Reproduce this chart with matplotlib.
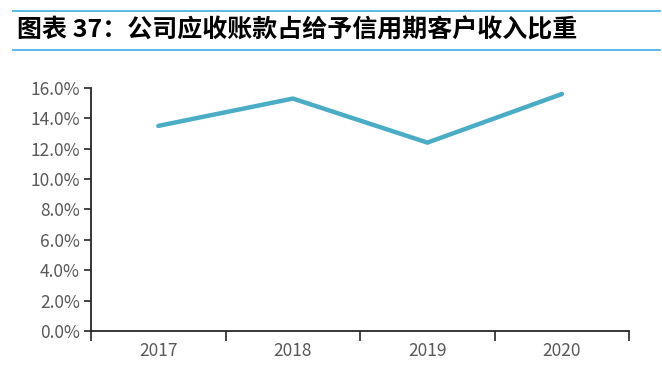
import matplotlib
matplotlib.use("Agg")
from matplotlib import pyplot as plt
from matplotlib.lines import Line2D
from matplotlib.ticker import FuncFormatter, FixedLocator

plt.rcParams["font.family"] = ["Noto Sans CJK SC", "DejaVu Sans"]

years = ["2017", "2018", "2019", "2020"]
share = [13.5, 15.3, 12.4, 15.6]
y_ticks = [0, 2, 4, 6, 8, 10, 12, 14, 16]

title = "图表 37：公司应收账款占给予信用期客户收入比重"

fig = plt.figure(figsize=(6.62, 3.71), dpi=100)
ax = fig.add_axes([0.1375, 0.108, 0.813, 0.655])

x = list(range(len(years)))
ax.plot(x, share, color="#4BACC6", linewidth=3.2, solid_capstyle="round",
        solid_joinstyle="miter")

ax.set_xlim(-0.5, len(years) - 0.5)
ax.set_ylim(0, 16)
ax.set_yticks(y_ticks)
ax.yaxis.set_major_formatter(FuncFormatter(lambda v, _: f"{v:.1f}%"))
ax.set_xticks(x)
ax.set_xticklabels(years)
ax.xaxis.set_minor_locator(FixedLocator([i - 0.5 for i in range(len(years) + 1)]))

for side in ["top", "right"]:
    ax.spines[side].set_visible(False)
for side in ["left", "bottom"]:
    ax.spines[side].set_color("#262626")
    ax.spines[side].set_linewidth(1.3)

ax.tick_params(axis="y", direction="out", length=5, width=1.2, color="#262626",
               labelsize=12.5, labelcolor="#595959", pad=3)
ax.tick_params(axis="x", which="major", length=0, labelsize=12.5,
               labelcolor="#595959", pad=8)
ax.tick_params(axis="x", which="minor", direction="out", length=7, width=1.2,
               color="#262626")

# title block with blue rules
fig.add_artist(Line2D([0.02, 0.997], [0.970, 0.970], transform=fig.transFigure,
                      color="#4DB3E6", linewidth=1.3))
fig.add_artist(Line2D([0.02, 0.997], [0.865, 0.865], transform=fig.transFigure,
                      color="#4DB3E6", linewidth=1.3))
fig.text(0.026, 0.918, title, fontsize=18, fontweight="bold", color="#000000",
         va="center", ha="left")

plt.savefig("out.png", dpi=100)
